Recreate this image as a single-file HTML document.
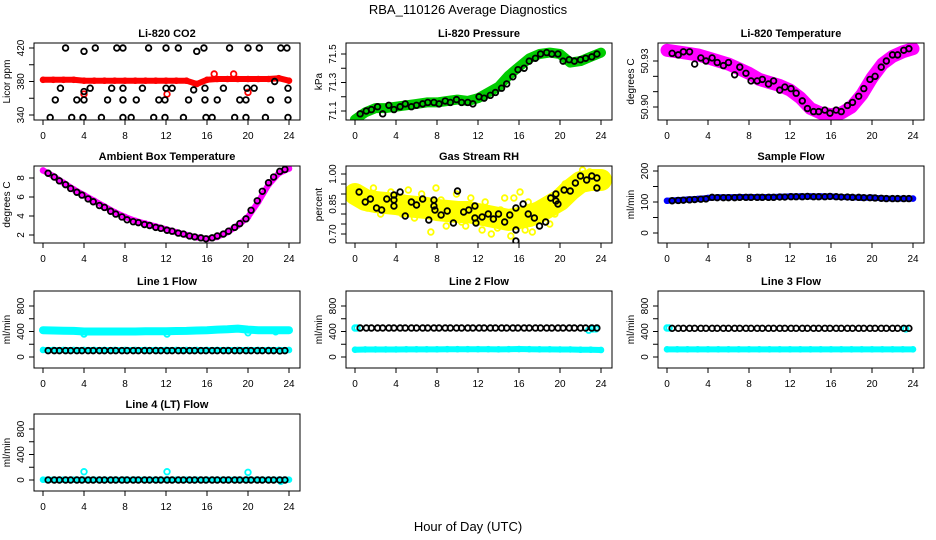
<!DOCTYPE html>
<html><head><meta charset="utf-8"><style>
html,body{margin:0;padding:0;background:#fff}
svg{display:block;font-family:"Liberation Sans",sans-serif}
</style></head><body>
<svg id="c" width="936" height="540" viewBox="0 0 936 540" xmlns="http://www.w3.org/2000/svg">
<defs id="defs"></defs>
<text x="468" y="14" text-anchor="middle" font-size="13">RBA_110126  Average Diagnostics</text>
<text x="468" y="531" text-anchor="middle" font-size="13">Hour of Day (UTC)</text>
</svg>
<script>
// hourly categories for dense series
const hoursDense = [0,1,2,3,4,5,6,7,8,9,10,11,12,13,14,15,16,17,18,19,20,21,22,23,24];
// hours of black averaged points
const hoursBlack = [0.5,1.1,1.6,2.2,2.7,3.3,3.8,4.4,4.9,5.5,6.0,6.6,7.1,7.7,8.2,8.8,9.3,9.9,10.4,11.0,11.5,12.1,12.6,13.2,13.7,14.3,14.8,15.4,15.9,16.5,17.0,17.6,18.1,18.7,19.2,19.8,20.3,20.9,21.4,22.0,22.5,23.1,23.6];
const xTicks = [0,4,8,12,16,20,24];

// CO2
const co2Red = [382,382,382,382,381,381,381,381,381,381,381,381,381,381,381,377,382,383,383,383,383,383,383,384,381];
const co2RedOutHours = [4.0,12.1,16.7,18.6,20.0];
const co2RedOutVals = [365,365,389,389,367];
const co2BlkHours = [2.2,5.1,7.2,7.8,10.3,12.0,13.2,15.7,18.2,20.0,21.1,23.2,23.8,4.0,15.0,1.7,4.0,4.6,6.7,7.8,9.7,12.0,12.6,15.8,17.6,19.9,20.6,23.9,1.2,3.3,4.0,6.3,7.8,9.1,11.3,11.9,14.2,15.8,17.0,19.2,19.8,22.2,23.9,0.7,2.8,3.9,5.7,7.8,8.6,10.8,11.9,13.7,15.9,16.5,18.7,19.8,21.7,23.9,14.7,22.6];
const co2BlkVals = [420,420,420,420,420,420,420,420,420,420,420,420,420,416,416,372,368,372,372,372,372,372,372,372,372,372,372,372,358,358,358,358,358,358,358,358,358,358,358,358,358,358,358,337,337,337,337,337,337,337,337,337,337,337,337,337,337,337,370,380];

// Pressure
const presGreen = [71.04,71.09,71.12,71.12,71.13,71.14,71.15,71.16,71.16,71.17,71.18,71.17,71.19,71.23,71.27,71.35,71.41,71.47,71.50,71.51,71.50,71.44,71.45,71.48,71.51];
const presBlack = [71.08,71.10,71.11,71.13,71.08,71.14,71.11,71.13,71.15,71.13,71.14,71.15,71.16,71.16,71.15,71.17,71.16,71.18,71.16,71.16,71.15,71.20,71.19,71.21,71.23,71.26,71.29,71.34,71.39,71.40,71.45,71.47,71.50,71.51,71.50,71.50,71.45,71.46,71.45,71.46,71.47,71.48,71.50];

// Li-820 temperature
const tempMag = [50.937,50.936,50.935,50.934,50.932,50.930,50.928,50.925,50.922,50.918,50.916,50.914,50.911,50.906,50.899,50.896,50.895,50.896,50.900,50.908,50.919,50.928,50.933,50.936,50.938];
const tempBlack = [50.935,50.934,50.936,50.936,50.928,50.932,50.930,50.932,50.929,50.927,50.929,50.921,50.926,50.922,50.917,50.917,50.918,50.915,50.917,50.911,50.913,50.912,50.909,50.904,50.899,50.897,50.897,50.898,50.896,50.898,50.897,50.901,50.903,50.907,50.912,50.918,50.920,50.926,50.930,50.934,50.934,50.937,50.938];

// Ambient box temperature
const ambMag = [8.8,8.2,7.5,6.8,6.2,5.6,5.0,4.4,3.9,3.5,3.2,2.9,2.6,2.3,2.0,1.75,1.6,1.8,2.3,3.0,3.9,5.5,7.3,8.5,9.0];
const ambBlack = [8.5,8.1,7.7,7.3,6.9,6.5,6.2,5.8,5.5,5.1,4.9,4.5,4.2,3.9,3.6,3.4,3.3,3.1,3.0,2.8,2.7,2.5,2.4,2.2,2.1,1.9,1.8,1.7,1.6,1.7,1.9,2.1,2.4,2.8,3.2,3.7,4.6,5.6,6.6,7.5,8.1,8.7,8.9];

// Gas stream RH
const rhYellow = [0.90,0.87,0.86,0.855,0.85,0.84,0.835,0.83,0.82,0.815,0.81,0.81,0.80,0.79,0.78,0.77,0.78,0.79,0.81,0.84,0.87,0.92,0.96,0.97,0.97];
const rhScatHours = [0.3,1.8,2.5,3.5,4.6,5.8,6.5,7.4,7.9,8.9,9.9,10.4,11.3,12.7,13.3,13.9,14.6,15.2,15.5,16.1,16.6,17.3,18.0,19.0,19.5,20.5,21.8,22.2,22.9,23.4,1.2,3.0,5.2,8.4,10.8,12.4,14.2,16.9];
const rhScatVals = [0.92,0.93,0.80,0.91,0.80,0.78,0.90,0.71,0.93,0.74,0.90,0.76,0.88,0.86,0.70,0.73,0.88,0.69,0.88,0.91,0.72,0.71,0.85,0.75,0.80,0.95,0.99,1.02,1.01,0.94,0.83,0.89,0.92,0.87,0.74,0.72,0.82,0.86];
const rhBlkHours = [0.4,1.0,1.5,2.1,2.6,3.1,3.8,3.8,3.8,4.4,4.9,5.5,6.0,6.6,7.2,7.7,7.7,7.8,8.4,9.0,9.6,10.0,10.6,11.1,11.7,11.7,11.8,12.4,13.0,13.5,14.0,14.6,15.1,15.7,15.7,15.7,16.4,16.9,17.5,18.0,18.6,19.1,19.6,19.6,19.8,20.4,21.0,21.5,22.0,22.6,23.1,23.6,23.6];
const rhBlkVals = [0.91,0.86,0.875,0.83,0.82,0.875,0.895,0.87,0.84,0.91,0.79,0.86,0.845,0.875,0.77,0.87,0.84,0.82,0.795,0.815,0.755,0.915,0.81,0.82,0.84,0.78,0.755,0.785,0.80,0.775,0.80,0.76,0.795,0.72,0.83,0.665,0.85,0.80,0.78,0.74,0.76,0.88,0.90,0.865,0.85,0.92,0.915,0.955,0.99,0.97,0.99,0.98,0.93];

// Sample flow
const sampBlue = [104,106,108,110,113,115,115,116,116,116,116,117,118,118,118,118,118,116,115,114,114,112,111,111,111];
const sampBlack = [104,105,106,107,108,109,110,115,114,114,114,114,115,115,115,115,115,115,115,116,116,117,117,117,118,117,117,117,118,117,116,116,115,115,114,114,113,112,111,111,111,111,111];

// Line flows
const l1CyanTop = [420,415,412,410,400,400,400,400,400,400,405,405,405,408,410,415,420,430,435,445,430,420,420,420,420];
const l1CyanBot = [110,110,110,110,110,110,110,110,110,110,110,110,110,110,110,110,110,110,110,110,110,110,110,110,110];
const l1CyanOutHours = [4.0,12.1,20.0,22.7];
const l1CyanOutVals = [360,360,380,395];
const l1Black = [100,100,100,100,100,100,100,100,100,100,100,100,100,100,100,100,100,100,100,100,100,100,100,100,100,100,100,100,100,100,100,100,100,100,100,100,100,100,100,100,100,95,100];
const l2CyanBot = [115,118,118,118,118,120,120,120,120,122,122,122,122,122,120,122,125,122,120,120,118,118,115,115,110];
const l2CyanTopHours = [0,0.2,22.8,23.2,23.5];
const l2CyanTopVals = [455,455,420,440,440];
const l2Black = [455,455,455,455,455,455,455,455,455,455,455,455,455,455,455,455,455,455,455,455,455,455,455,455,455,455,455,455,455,455,455,455,455,455,455,455,455,455,455,455,455,455,455];
const l3CyanBot = [120,120,120,120,120,120,120,120,120,120,120,120,120,120,120,120,120,120,120,120,120,120,120,120,120];
const l3CyanTopHours = [0,0.2,23.3];
const l3CyanTopVals = [455,455,440];
const l3Black = [450,450,450,450,450,450,450,450,450,450,450,450,450,450,450,450,450,450,450,450,450,450,450,450,450,450,450,450,450,450,450,450,450,450,450,450,450,450,450,450,450,450,450];
const l4Cyan = [5,5,5,5,5,5,5,5,5,5,5,5,5,5,5,5,5,5,5,5,5,5,5,5,5];
const l4CyanOutHours = [4.0,12.1,20.0,23.2];
const l4CyanOutVals = [130,130,120,-20];
const l4Black = [0,0,0,0,0,0,0,0,0,0,0,0,0,0,0,0,0,0,0,0,0,0,0,0,0,0,0,0,0,0,0,0,0,0,0,0,0,0,0,0,0,0,0];

const NS = "http://www.w3.org/2000/svg";
const svg = document.getElementById('c');
const defs = document.getElementById('defs');
function mk(tag, attrs, parent){const e=document.createElementNS(NS,tag);for(const k in attrs)e.setAttribute(k,attrs[k]);(parent||svg).appendChild(e);return e;}
let clipId=0;

function panel(cfg){
  const g = mk('g',{});
  
  
  const bx=cfg.bx, by=cfg.by, bw=266, bh=77;
  const x=h=>bx+9+h*(246/24);
  const y=v=>cfg.yp[0]+(v-cfg.yv[0])*(cfg.yp[1]-cfg.yp[0])/(cfg.yv[1]-cfg.yv[0]);
  cfg.x=x; cfg.y=y; cfg.g=g;
  const t=mk('text',{x:bx+bw/2,y:by-6,'text-anchor':'middle','font-size':11,'font-weight':'bold'},g);
  t.textContent=cfg.title;
  
  
  clipId++;
  const cp=mk('clipPath',{id:'cp'+clipId},defs);
  mk('rect',{x:bx,y:by,width:bw,height:bh},cp);
  const clip = mk('g',{'clip-path':`url(#cp${clipId})`},g);
  cfg.layer=clip;
  const fr=mk('rect',{x:bx,y:by,width:bw,height:bh,fill:'none',stroke:'#000','stroke-width':1},g);
  
  
  const xa=mk('g',{},g);
  
  
  mk('line',{x1:x(0),x2:x(24),y1:by+bh,y2:by+bh,stroke:'#000'},xa);
  xTicks.forEach(v=>{
    mk('line',{x1:x(v),x2:x(v),y1:by+bh,y2:by+bh+5,stroke:'#000'},xa);
    const tt=mk('text',{x:x(v),y:by+bh+19,'text-anchor':'middle','font-size':10},xa);
    tt.textContent=v;
  });
  const ya=mk('g',{},g);
  
  
  const yt=cfg.yticks;
  mk('line',{x1:bx,x2:bx,y1:y(yt[0]),y2:y(yt[yt.length-1]),stroke:'#000'},ya);
  yt.forEach(v=>{
    mk('line',{x1:bx-5,x2:bx,y1:y(v),y2:y(v),stroke:'#000'},ya);
  });
  cfg.ylabels.forEach((lab,i)=>{
    const yy=y(cfg.ylabelVals[i]);
    const tt=mk('text',{x:bx-10,y:yy,'text-anchor':'middle','font-size':10,transform:`rotate(-90 ${bx-10} ${yy})`},ya);
    tt.textContent=lab;
  });
  const yl=mk('text',{x:bx-24,y:by+bh/2,'text-anchor':'middle','font-size':10,transform:`rotate(-90 ${bx-24} ${by+bh/2})`},g);
  yl.textContent=cfg.ylab;
  
  
  return cfg;
}
function band(p,hours,vals,color,w,name){
  const d=hours.map((h,i)=>`${i?'L':'M'}${p.x(h).toFixed(1)},${p.y(vals[i]).toFixed(1)}`).join('');
  const e=mk('path',{d:d,fill:'none',stroke:color,'stroke-width':w,'stroke-linejoin':'round','stroke-linecap':'round'},p.layer);
  
  
  hours.forEach((h,i)=>{
    const c=mk('circle',{cx:p.x(h),cy:p.y(vals[i]),r:2.6,fill:'none',stroke:color,'stroke-width':1.4},p.layer);
    
    
  });
}
function pts(p,hours,vals,color,name){
  hours.forEach((h,i)=>{
    if(vals[i]===undefined) return;
    const c=mk('circle',{cx:p.x(h),cy:p.y(vals[i]),r:2.8,fill:'none',stroke:color,'stroke-width':1.8},p.layer);
    
    
  });
}
const cols=[34,346,658], rows=[43,166,291,414];
const flowTicks=[0,200,400,600,800];

let p=panel({name:'panel-co2',bx:cols[0],by:rows[0],title:'Li-820 CO2',ylab:'Licor ppm',yv:[420,340],yp:[48,115],yticks:[340,360,380,400,420],ylabels:['340','380','420'],ylabelVals:[340,380,420]});
band(p,hoursDense,co2Red,'#ff0000',6,'co2-red-series');
pts(p,co2RedOutHours,co2RedOutVals,'#ff0000','co2-red-outlier');
pts(p,co2BlkHours,co2BlkVals,'#000','co2-black-point');

p=panel({name:'panel-pressure',bx:cols[1],by:rows[0],title:'Li-820 Pressure',ylab:'kPa',yv:[71.5,71.1],yp:[54,111],yticks:[71.1,71.2,71.3,71.4,71.5],ylabels:['71.1','71.3','71.5'],ylabelVals:[71.1,71.3,71.5]});
band(p,hoursDense,presGreen,'#00cc00',10,'pressure-green-series');
pts(p,hoursBlack,presBlack,'#000','pressure-black-point');

p=panel({name:'panel-li820-temp',bx:cols[2],by:rows[0],title:'Li-820 Temperature',ylab:'degrees C',yv:[50.93,50.90],yp:[61,107],yticks:[50.90,50.91,50.92,50.93],ylabels:['50.90','50.93'],ylabelVals:[50.90,50.93]});
band(p,hoursDense,tempMag,'#ff00ff',13,'temp-magenta-series');
pts(p,hoursBlack,tempBlack,'#000','temp-black-point');

p=panel({name:'panel-ambient-temp',bx:cols[0],by:rows[1],title:'Ambient Box Temperature',ylab:'degrees C',yv:[8,2],yp:[178,235],yticks:[2,4,6,8],ylabels:['2','4','6','8'],ylabelVals:[2,4,6,8]});
band(p,hoursDense,ambMag,'#ff00ff',6,'ambient-magenta-series');
pts(p,hoursBlack,ambBlack,'#000','ambient-black-point');

p=panel({name:'panel-rh',bx:cols[1],by:rows[1],title:'Gas Stream RH',ylab:'percent',yv:[1.0,0.7],yp:[174,234],yticks:[0.70,0.75,0.80,0.85,0.90,0.95,1.00],ylabels:['0.70','0.85','1.00'],ylabelVals:[0.70,0.85,1.00]});
band(p,hoursDense,rhYellow,'#ffff00',22,'rh-yellow-series');
pts(p,rhScatHours,rhScatVals,'#ffff00','rh-yellow-point');
pts(p,rhBlkHours,rhBlkVals,'#000','rh-black-point');

p=panel({name:'panel-sample-flow',bx:cols[2],by:rows[1],title:'Sample Flow',ylab:'ml/min',yv:[200,0],yp:[171,233],yticks:[0,50,100,150,200],ylabels:['0','100','200'],ylabelVals:[0,100,200]});
band(p,hoursDense,sampBlue,'#0000ff',6,'sample-blue-series');
pts(p,hoursBlack,sampBlack,'#000','sample-black-point');

const fy=(r)=>[rows[r]+15,rows[r]+66];
p=panel({name:'panel-line1-flow',bx:cols[0],by:rows[2],title:'Line 1 Flow',ylab:'ml/min',yv:[800,0],yp:fy(2),yticks:flowTicks,ylabels:['0','400','800'],ylabelVals:[0,400,800]});
band(p,hoursDense,l1CyanTop,'#00ffff',8,'line1-cyan-top');
pts(p,l1CyanOutHours,l1CyanOutVals,'#00ffff','line1-cyan-outlier');
band(p,hoursDense,l1CyanBot,'#00ffff',6,'line1-cyan-bottom');
pts(p,hoursBlack,l1Black,'#000','line1-black-point');

p=panel({name:'panel-line2-flow',bx:cols[1],by:rows[2],title:'Line 2 Flow',ylab:'ml/min',yv:[800,0],yp:fy(2),yticks:flowTicks,ylabels:['0','400','800'],ylabelVals:[0,400,800]});
band(p,hoursDense,l2CyanBot,'#00ffff',6,'line2-cyan-bottom');
pts(p,l2CyanTopHours,l2CyanTopVals,'#00ffff','line2-cyan-top');
pts(p,hoursBlack,l2Black,'#000','line2-black-point');

p=panel({name:'panel-line3-flow',bx:cols[2],by:rows[2],title:'Line 3 Flow',ylab:'ml/min',yv:[800,0],yp:fy(2),yticks:flowTicks,ylabels:['0','400','800'],ylabelVals:[0,400,800]});
band(p,hoursDense,l3CyanBot,'#00ffff',6,'line3-cyan-bottom');
pts(p,l3CyanTopHours,l3CyanTopVals,'#00ffff','line3-cyan-top');
pts(p,hoursBlack,l3Black,'#000','line3-black-point');

p=panel({name:'panel-line4-flow',bx:cols[0],by:rows[3],title:'Line 4 (LT) Flow',ylab:'ml/min',yv:[800,0],yp:fy(3),yticks:flowTicks,ylabels:['0','400','800'],ylabelVals:[0,400,800]});
band(p,hoursDense,l4Cyan,'#00ffff',6,'line4-cyan-series');
pts(p,l4CyanOutHours,l4CyanOutVals,'#00ffff','line4-cyan-outlier');
pts(p,hoursBlack,l4Black,'#000','line4-black-point');
</script>
</body></html>
